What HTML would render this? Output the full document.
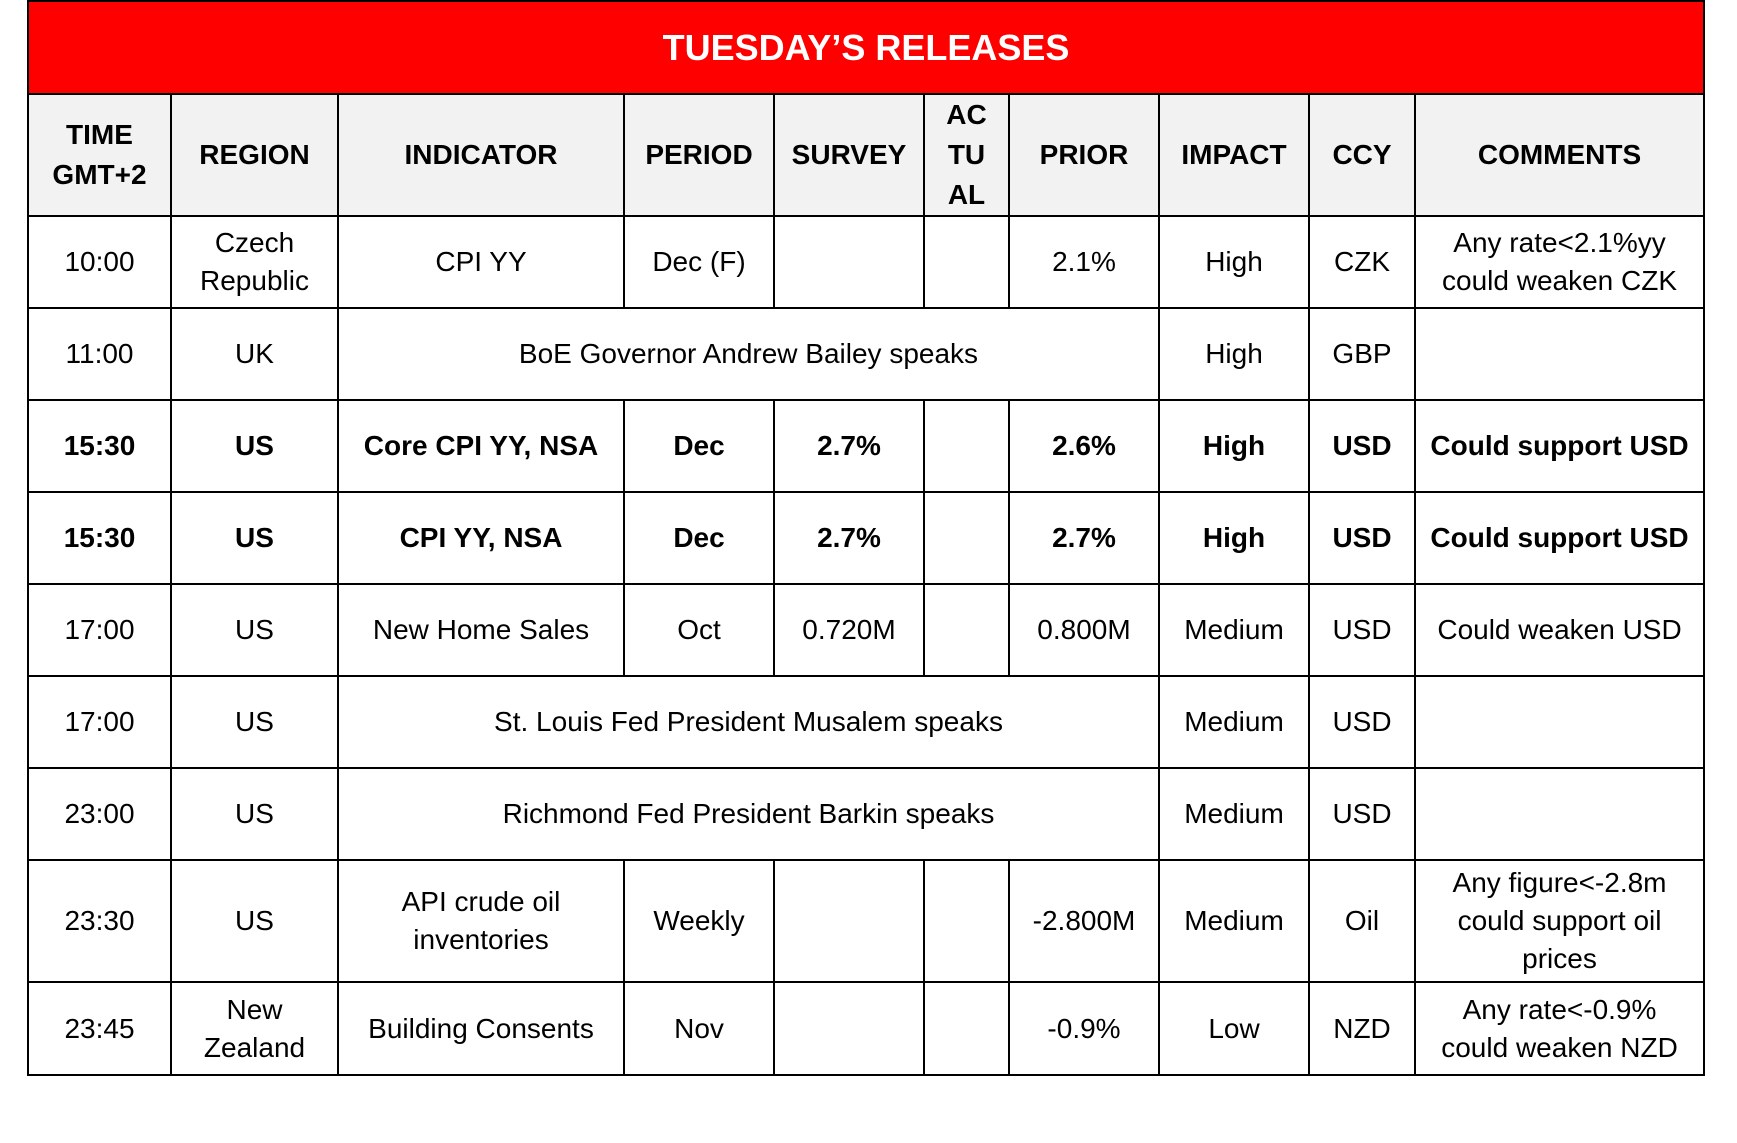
<!DOCTYPE html><html><head><style>
body{margin:0;background:#fff;width:1737px;height:1143px;overflow:hidden;font-family:"Liberation Sans",sans-serif}
table{position:absolute;left:27px;top:0;border-collapse:collapse;table-layout:fixed;width:1676px}
td{border:2px solid #000;text-align:center;vertical-align:middle;font-size:28px;line-height:38px;color:#000;padding:0}
.t td{background:#ff0000;color:#fff;font-weight:bold;font-size:36px;height:91px;border-color:#000}
.h td{background:#f2f2f2;font-weight:bold;font-size:28px;line-height:40px}
.b td{font-weight:bold}
</style></head><body>
<table>
<colgroup><col style="width:143px"><col style="width:167px"><col style="width:286px"><col style="width:150px"><col style="width:150px"><col style="width:85px"><col style="width:150px"><col style="width:150px"><col style="width:106px"><col style="width:289px"></colgroup>
<tr class="t"><td colspan="10">TUESDAY’S RELEASES</td></tr>
<tr class="h" style="height:118px"><td>TIME<br>GMT+2</td><td>REGION</td><td>INDICATOR</td><td>PERIOD</td><td>SURVEY</td><td>AC<br>TU<br>AL</td><td>PRIOR</td><td>IMPACT</td><td>CCY</td><td>COMMENTS</td></tr>
<tr style="height:92px"><td>10:00</td><td>Czech<br>Republic</td><td>CPI YY</td><td>Dec (F)</td><td></td><td></td><td>2.1%</td><td>High</td><td>CZK</td><td>Any rate&lt;2.1%yy<br>could weaken CZK</td></tr>
<tr style="height:92px"><td>11:00</td><td>UK</td><td colspan="5">BoE Governor Andrew Bailey speaks</td><td>High</td><td>GBP</td><td></td></tr>
<tr class="b" style="height:92px"><td>15:30</td><td>US</td><td>Core CPI YY, NSA</td><td>Dec</td><td>2.7%</td><td></td><td>2.6%</td><td>High</td><td>USD</td><td>Could support USD</td></tr>
<tr class="b" style="height:92px"><td>15:30</td><td>US</td><td>CPI YY, NSA</td><td>Dec</td><td>2.7%</td><td></td><td>2.7%</td><td>High</td><td>USD</td><td>Could support USD</td></tr>
<tr style="height:92px"><td>17:00</td><td>US</td><td>New Home Sales</td><td>Oct</td><td>0.720M</td><td></td><td>0.800M</td><td>Medium</td><td>USD</td><td>Could weaken USD</td></tr>
<tr style="height:92px"><td>17:00</td><td>US</td><td colspan="5">St. Louis Fed President Musalem speaks</td><td>Medium</td><td>USD</td><td></td></tr>
<tr style="height:92px"><td>23:00</td><td>US</td><td colspan="5">Richmond Fed President Barkin speaks</td><td>Medium</td><td>USD</td><td></td></tr>
<tr style="height:122px"><td>23:30</td><td>US</td><td>API crude oil<br>inventories</td><td>Weekly</td><td></td><td></td><td>-2.800M</td><td>Medium</td><td>Oil</td><td>Any figure&lt;-2.8m<br>could support oil<br>prices</td></tr>
<tr style="height:93px"><td>23:45</td><td>New<br>Zealand</td><td>Building Consents</td><td>Nov</td><td></td><td></td><td>-0.9%</td><td>Low</td><td>NZD</td><td>Any rate&lt;-0.9%<br>could weaken NZD</td></tr>
</table></body></html>
